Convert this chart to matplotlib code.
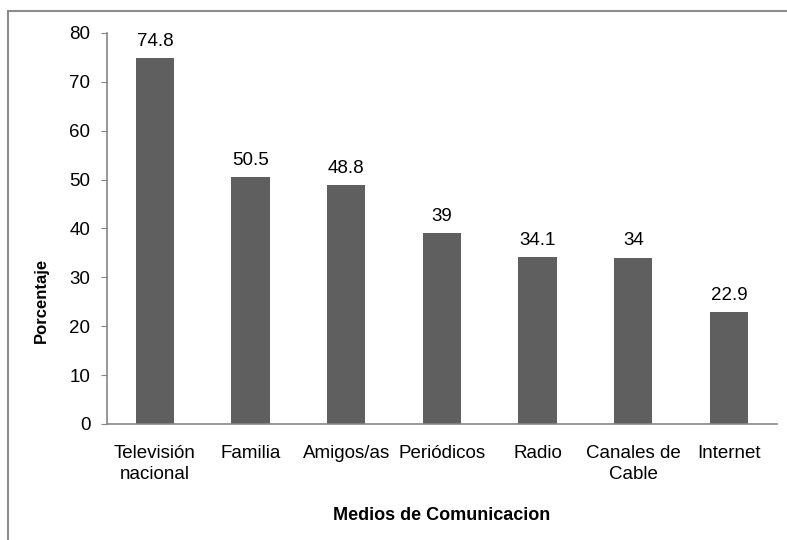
import numpy as np
import matplotlib as mpl
import matplotlib.pyplot as plt
from matplotlib.patches import Rectangle

mpl.rcParams['font.family'] = ['Liberation Sans', 'DejaVu Sans']
mpl.rcParams['font.size'] = 13.5

categorias = ['Televisión\nnacional', 'Familia', 'Amigos/as', 'Periódicos',
              'Radio', 'Canales de\nCable', 'Internet']
porcentajes = [74.8, 50.5, 48.8, 39, 34.1, 34, 22.9]
etiquetas = ['74.8', '50.5', '48.8', '39', '34.1', '34', '22.9']
yticks = [0, 10, 20, 30, 40, 50, 60, 70, 80]

fig = plt.figure(figsize=(7.87, 5.4), dpi=100)
ax = fig.add_axes([0.136, 0.215, 0.851, 0.724])

# marco del grafico
fig.patches.append(Rectangle((8/787, -0.1), 1.2, 1 - 11/540 + 0.1,
                             transform=fig.transFigure, fill=False,
                             edgecolor='#8c8c8c', linewidth=1.5))

x = np.arange(len(categorias))
bars = ax.bar(x, porcentajes, width=0.4, color='#5f5f5f', zorder=2)
for b, t in zip(bars, etiquetas):
  ax.annotate(t, (b.get_x() + b.get_width()/2, b.get_height()),
              xytext=(0, 6), textcoords='offset points',
              ha='center', va='bottom')

ax.set_xlim(-0.5, len(categorias) - 0.5)
ax.set_ylim(0, 80)
ax.set_yticks(yticks)
ax.set_xticks(x)
ax.set_xticklabels(categorias, linespacing=1.35)
ax.tick_params(axis='x', length=0, pad=15)
ax.tick_params(axis='y', length=4, color='#868686', pad=8)

for s in ['top', 'right']:
  ax.spines[s].set_visible(False)
for s in ['left', 'bottom']:
  ax.spines[s].set_color('#868686')
  ax.spines[s].set_linewidth(1.2)

ax.set_ylabel('Porcentaje', fontweight='bold', fontsize=12, labelpad=15, y=0.317)
ax.set_xlabel('Medios de Comunicacion', fontweight='bold', fontsize=13, labelpad=17)

plt.savefig('out.png', dpi=100)
